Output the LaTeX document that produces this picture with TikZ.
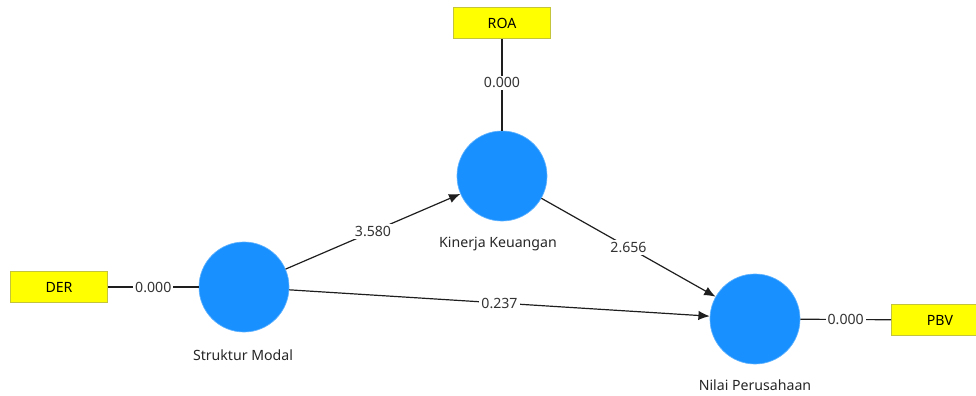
\documentclass[tikz,border=0pt]{standalone}
\usepackage{fontspec}
\setmainfont{Noto Sans}
\usetikzlibrary{arrows.meta}
\definecolor{lvBlue}{RGB}{24,144,255}
\definecolor{indYellow}{RGB}{255,255,0}
\definecolor{indBorder}{RGB}{196,196,60}
\definecolor{pathGray}{RGB}{30,30,30}
\tikzstyle{myLatent}=[circle, fill=lvBlue, draw=lvBlue!70!white, line width=0.5pt, minimum size=67.5pt, inner sep=0pt]
\tikzstyle{myIndicator}=[draw=indBorder, fill=indYellow, line width=0.6pt, minimum width=72.75pt, minimum height=23.25pt, inner sep=0pt, font=\fontsize{10.6}{12}\selectfont]
\tikzstyle{myName}=[font=\fontsize{10.6}{12}\selectfont, text=black!85]
\tikzstyle{myValue}=[fill=white, inner sep=1.5pt, font=\fontsize{10.6}{12}\selectfont, text=black!80]
\tikzstyle{myPath}=[-{Latex[length=8.5pt,width=7pt]}, line width=0.9pt, draw=pathGray]
\tikzstyle{myLoad}=[line width=0.9pt, draw=pathGray]

\begin{document}
\begin{tikzpicture}[x=0.75pt, y=-0.75pt]
   \useasboundingbox (0,0) rectangle (976,396);

   \node[myLatent] (sm) at (244,287) {};
   \node[myLatent] (kk) at (502,176) {};
   \node[myLatent] (np) at (755,319) {};

   \node[myName] (smL) at (243,355) {Struktur Modal};
   \node[myName] (kkL) at (498,244) {Kinerja Keuangan};
   \node[myName] (npL) at (755,385) {Nilai Perusahaan};

   \node[myIndicator] (der) at (59,287) {DER};
   \node[myIndicator] (roa) at (502,23) {ROA};
   \node[myIndicator] (pbv) at (940,320) {PBV};

   % outer loadings
   \draw[myLoad] (der) -- (sm) node [myValue, midway] {0.000};
   \draw[myLoad] (roa) -- (kk) node [myValue, pos=0.48] {0.000};
   \draw[myLoad] (np) -- (pbv) node [myValue, midway] {0.000};

   % inner paths
   \draw[myPath] (sm) -- (kk) node [myValue, midway] {3.580};
   \draw[myPath] (kk) -- (np) node [myValue, midway] {2.656};
   \draw[myPath] (sm) -- (np) node [myValue, midway] {0.237};

\end{tikzpicture}
\end{document}
